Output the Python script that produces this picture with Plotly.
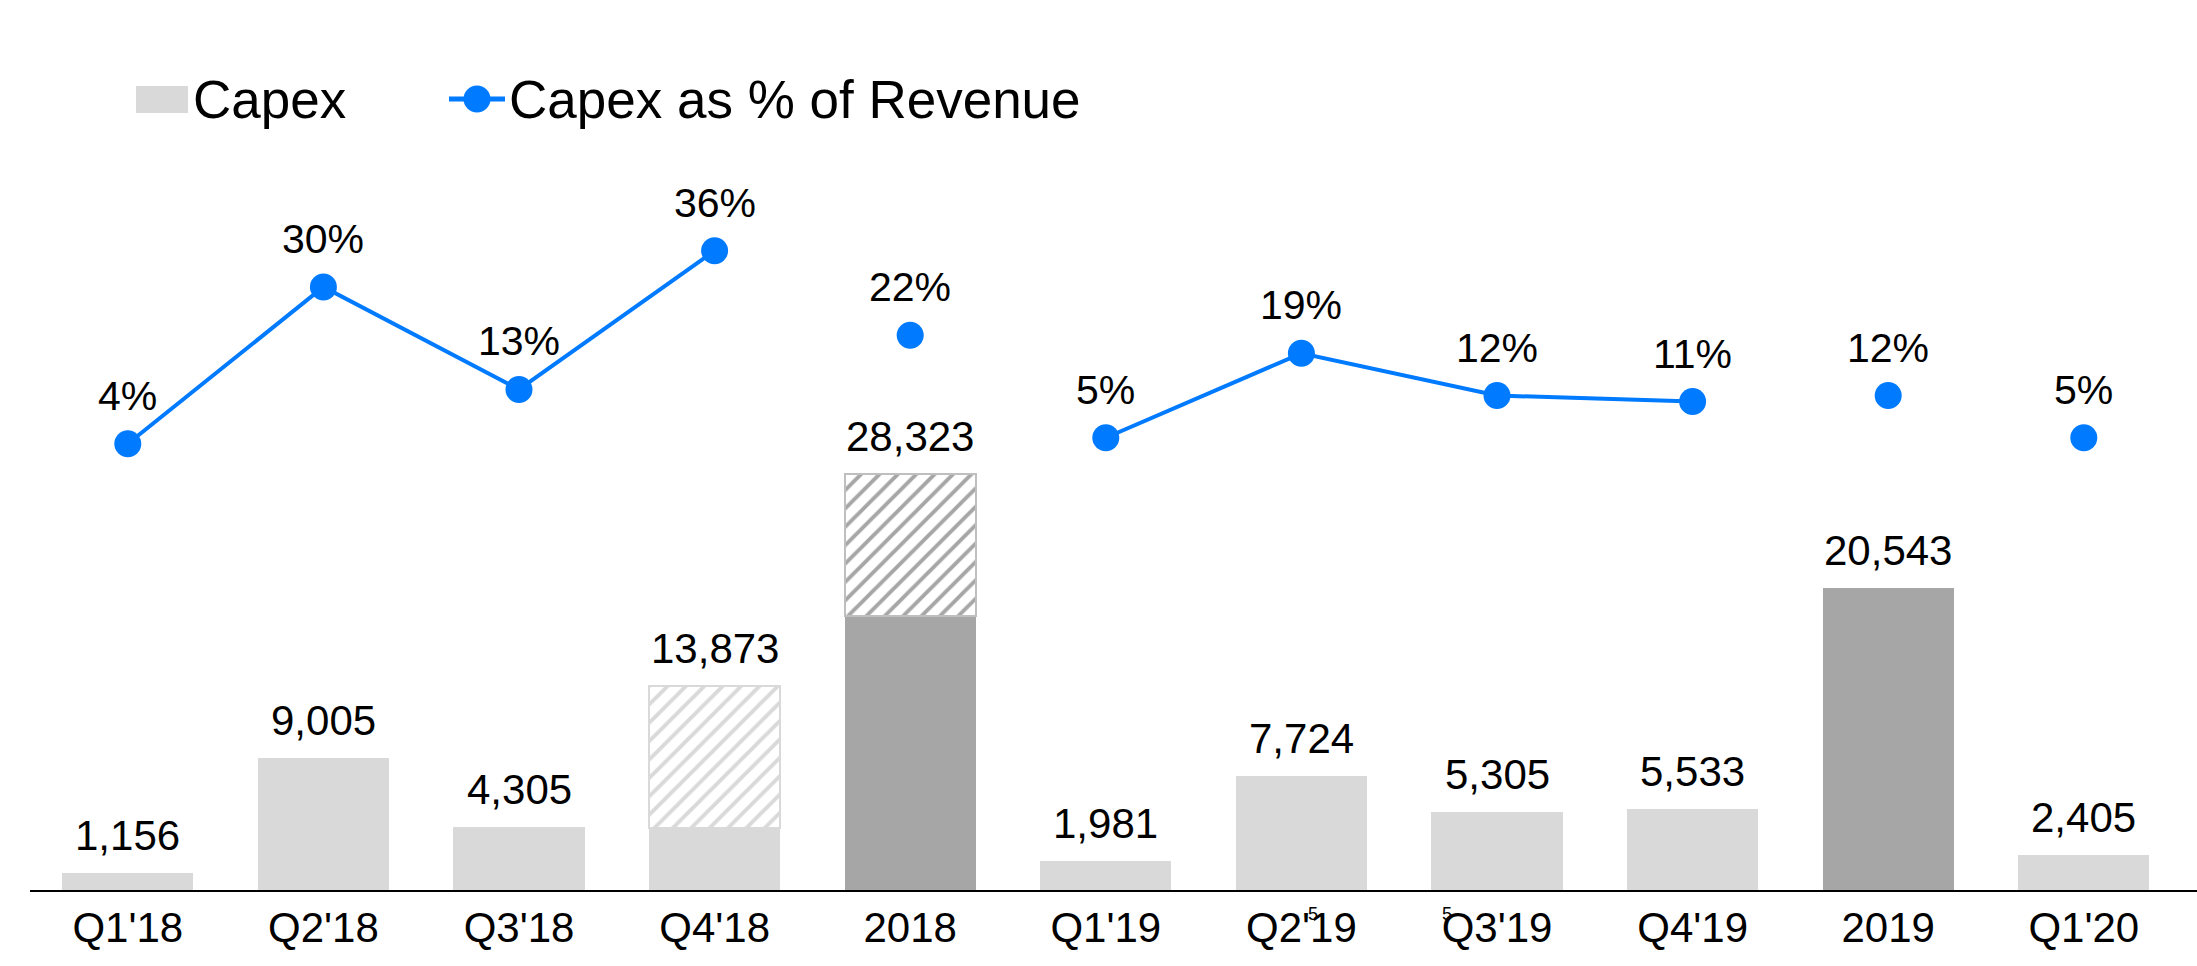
import plotly.graph_objects as go

# Periods on the category axis
categories = ["Q1'18", "Q2'18", "Q3'18", "Q4'18", "2018",
              "Q1'19", "Q2'19", "Q3'19", "Q4'19", "2019", "Q1'20"]

# Capex totals (labelled above each bar)
capex_total = [1156, 9005, 4305, 13873, 28323, 1981, 7724, 5305, 5533, 20543, 2405]
# Solid (non-hatched) portion of each bar
capex_solid = [1156, 9005, 4305, 4200, 18666, 1981, 7724, 5305, 5533, 20543, 2405]
# Full-year bars are drawn darker
is_year = [False, False, False, False, True, False, False, False, False, True, False]

# Capex as % of revenue
capex_pct = [4, 30, 13, 36, 22, 5, 19, 12, 11, 12, 5]
# Points joined by the line (quarterly runs within each year)
in_line = [True, True, True, True, False, True, True, True, True, False, False]

# Footnote markers on tick labels: (category index, pixel x offset)
footnotes = [(6, 12), (7, -50)]

LIGHT = "#D9D9D9"
DARK = "#A6A6A6"
BLUE = "#007AFF"
FONT = "Liberation Sans, Arial, sans-serif"

W, H = 2197, 966
ML, MR, MT, MB = 30, 0, 0, 76
PW, PH = W - ML - MR, H - MT - MB

x_idx = list(range(len(categories)))
hatch = [t - s for t, s in zip(capex_total, capex_solid)]
solid_colors = [DARK if y else LIGHT for y in is_year]
hatch_fg = [DARK if y else LIGHT for y in is_year]
hatch_line = ["#BFBFBF" if y else LIGHT for y in is_year]
hatch_line_w = [2 if h > 0 else 0 for h in hatch]

fig = go.Figure()

fig.add_trace(go.Bar(
    x=x_idx, y=capex_solid, marker=dict(color=solid_colors, line=dict(width=0)),
    showlegend=False, hoverinfo="skip",
))
fig.add_trace(go.Bar(
    x=x_idx, y=hatch,
    marker=dict(
        color="white",
        line=dict(color=hatch_line, width=hatch_line_w),
        pattern=dict(shape="/", fgcolor=hatch_fg, bgcolor="white",
                     size=13, solidity=0.3, fillmode="replace"),
    ),
    showlegend=False, hoverinfo="skip",
))

line_y = [p if keep else None for p, keep in zip(capex_pct, in_line)]
fig.add_trace(go.Scatter(
    x=x_idx, y=line_y, mode="lines", yaxis="y2",
    line=dict(color=BLUE, width=4), connectgaps=False,
    showlegend=False, hoverinfo="skip",
))
fig.add_trace(go.Scatter(
    x=x_idx, y=capex_pct, mode="markers", yaxis="y2",
    marker=dict(color=BLUE, size=27, line=dict(width=0)),
    showlegend=False, hoverinfo="skip",
))

annotations = []
for i, v in enumerate(capex_total):
    annotations.append(dict(
        x=i, y=v, xref="x", yref="y", text=f"{v:,}", showarrow=False,
        yanchor="bottom", yshift=12, font=dict(family=FONT, size=42, color="black"),
    ))
for i, p in enumerate(capex_pct):
    annotations.append(dict(
        x=i, y=p, xref="x", yref="y2", text=f"{p}%", showarrow=False,
        yanchor="bottom", yshift=23, font=dict(family=FONT, size=41, color="black"),
    ))


def px_x(px):
    return (px - ML) / PW


def px_y(py):
    return 1 - (py - MT) / PH


for i, dx in footnotes:
    annotations.append(dict(
        x=i, xref="x", xshift=dx, y=px_y(914), yref="paper", text="5",
        showarrow=False, yanchor="middle",
        font=dict(family=FONT, size=18, color="black"),
    ))

# Legend entries
annotations.append(dict(
    x=px_x(191), y=px_y(99), xref="paper", yref="paper", text="Capex",
    showarrow=False, xanchor="left", yanchor="middle",
    font=dict(family=FONT, size=53, color="black"),
))
annotations.append(dict(
    x=px_x(507), y=px_y(99), xref="paper", yref="paper", text="Capex as % of Revenue",
    showarrow=False, xanchor="left", yanchor="middle",
    font=dict(family=FONT, size=53, color="black"),
))

shapes = [
    dict(type="rect", xref="paper", yref="paper",
         x0=px_x(136), x1=px_x(188), y0=px_y(113), y1=px_y(86),
         fillcolor=LIGHT, line=dict(width=0)),
    dict(type="line", xref="paper", yref="paper",
         x0=px_x(449), x1=px_x(505), y0=px_y(99), y1=px_y(99),
         line=dict(color=BLUE, width=5)),
    dict(type="circle", xref="paper", yref="paper",
         x0=px_x(463.5), x1=px_x(490.5), y0=px_y(112.5), y1=px_y(85.5),
         fillcolor=BLUE, line=dict(width=0)),
]

fig.update_layout(
    width=W, height=H,
    margin=dict(l=ML, r=MR, t=MT, b=MB, pad=0),
    paper_bgcolor="white", plot_bgcolor="white",
    barmode="stack", bargap=0.33,
    font=dict(family=FONT, size=41, color="black"),
    xaxis=dict(
        range=[-0.5, -0.5 + PW / 195.6], tickmode="array", tickvals=x_idx,
        ticktext=categories, showgrid=False, zeroline=False,
        showline=True, linecolor="black", linewidth=2, ticks="",
        tickfont=dict(family=FONT, size=42, color="black"), automargin=False,
    ),
    yaxis=dict(range=[0, PH / 0.0147], visible=False, showgrid=False, zeroline=False),
    yaxis2=dict(range=[-70.0, 77.59], overlaying="y", visible=False,
                showgrid=False, zeroline=False),
    annotations=annotations,
    shapes=shapes,
    showlegend=False,
)

fig.write_html("out.html")
